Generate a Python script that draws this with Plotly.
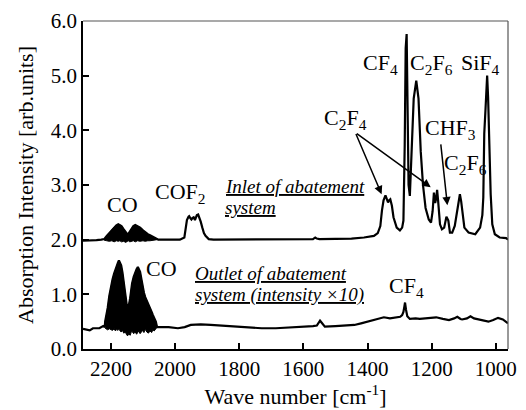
import plotly.graph_objects as go

# ---------------- data ----------------
# Inlet spectrum, main line outside the CO band
inlet_x_a = [2287, 2266, 2245, 2230, 2222]
inlet_y_a = [1.98, 1.98, 1.99, 2.00, 2.00]
# CO band (inlet) envelope
inlet_co_x = [2221, 2213, 2205, 2197, 2190, 2183, 2177, 2172, 2167, 2160, 2154, 2150, 2146, 2141, 2136, 2130, 2124, 2117, 2109, 2100, 2093, 2085, 2078, 2070, 2063, 2056, 2052]
inlet_co_hi = [2.01, 2.07, 2.12, 2.18, 2.23, 2.26, 2.28, 2.27, 2.25, 2.19, 2.13, 2.11, 2.10, 2.15, 2.21, 2.25, 2.27, 2.25, 2.22, 2.17, 2.13, 2.10, 2.08, 2.06, 2.04, 2.02, 2.00]
inlet_co_lo = [1.99, 1.98, 1.97, 1.98, 1.96, 1.98, 1.97, 1.98, 1.96, 1.97, 1.95, 1.97, 1.98, 1.96, 1.97, 1.98, 1.96, 1.98, 1.97, 1.98, 1.97, 1.98, 1.98, 1.99, 1.99, 2.00, 2.00]
inlet_x_b = [2045, 2020, 2000, 1985, 1971, 1966, 1963, 1958, 1956, 1952, 1949, 1945, 1942, 1938, 1935, 1932, 1928, 1925, 1920, 1915, 1910, 1905, 1900, 1895, 1880, 1849, 1800, 1750, 1700, 1650, 1600, 1570, 1563, 1558, 1550, 1500, 1450, 1411, 1395, 1380, 1368, 1360, 1355, 1350, 1344, 1340, 1336, 1333, 1329, 1324, 1319, 1309, 1299, 1292, 1288, 1284, 1281, 1278, 1275, 1272, 1268, 1263, 1256, 1248, 1241, 1234, 1227, 1219, 1209, 1202, 1197, 1193, 1189, 1186, 1183, 1180, 1178, 1174, 1168, 1161, 1154, 1148, 1143, 1136, 1128, 1120, 1116, 1112, 1108, 1104, 1098, 1085, 1064, 1049, 1042, 1039, 1036, 1032, 1029, 1027, 1024, 1022, 1019, 1016, 1011, 1003, 988, 975, 968, 962]
inlet_y_b = [2.00, 2.00, 2.00, 2.00, 2.04, 2.28, 2.36, 2.42, 2.43, 2.39, 2.37, 2.40, 2.41, 2.36, 2.40, 2.45, 2.46, 2.42, 2.33, 2.22, 2.12, 2.07, 2.03, 2.01, 2.00, 2.00, 2.00, 2.00, 2.00, 2.00, 2.01, 2.01, 2.04, 2.02, 2.01, 2.01, 2.02, 2.04, 2.05, 2.07, 2.12, 2.25, 2.53, 2.72, 2.81, 2.73, 2.68, 2.72, 2.74, 2.62, 2.41, 2.22, 2.17, 2.22, 2.35, 3.73, 5.50, 5.76, 4.34, 3.00, 2.80, 3.43, 4.58, 4.91, 4.58, 3.61, 3.00, 2.58, 2.37, 2.31, 2.52, 2.86, 2.67, 2.75, 2.91, 2.72, 2.58, 2.28, 2.19, 2.22, 2.42, 2.35, 2.13, 2.13, 2.25, 2.53, 2.70, 2.83, 2.70, 2.53, 2.22, 2.13, 2.10, 2.22, 2.45, 2.77, 3.94, 4.40, 4.70, 5.00, 4.60, 4.04, 3.40, 2.83, 2.28, 2.10, 2.04, 2.04, 2.03, 2.00]

# Outlet spectrum (intensity x10)
outlet_x_a = [2287, 2277, 2266, 2256, 2236, 2224, 2219]
outlet_y_a = [0.37, 0.35, 0.34, 0.38, 0.38, 0.42, 0.40]
outlet_co_x = [2218, 2214, 2210, 2205, 2200, 2195, 2190, 2186, 2182, 2178, 2175, 2171, 2168, 2164, 2160, 2155, 2151, 2148, 2144, 2140, 2137, 2134, 2129, 2124, 2120, 2116, 2113, 2109, 2105, 2101, 2097, 2093, 2088, 2083, 2078, 2073, 2069, 2065, 2060, 2056]
outlet_co_hi = [0.50, 0.62, 0.75, 0.97, 1.14, 1.27, 1.38, 1.46, 1.53, 1.58, 1.62, 1.57, 1.53, 1.40, 1.20, 0.98, 0.82, 0.79, 0.80, 0.93, 1.08, 1.20, 1.32, 1.41, 1.46, 1.50, 1.47, 1.41, 1.28, 1.14, 1.03, 0.95, 0.89, 0.83, 0.76, 0.68, 0.62, 0.56, 0.50, 0.40]
outlet_co_lo = [0.38, 0.36, 0.35, 0.37, 0.35, 0.34, 0.37, 0.33, 0.36, 0.34, 0.36, 0.33, 0.31, 0.34, 0.29, 0.31, 0.26, 0.24, 0.28, 0.25, 0.30, 0.32, 0.28, 0.31, 0.27, 0.29, 0.33, 0.28, 0.31, 0.34, 0.30, 0.36, 0.31, 0.29, 0.33, 0.30, 0.35, 0.33, 0.37, 0.40]
outlet_x_b = [2050, 2040, 2020, 1991, 1970, 1951, 1920, 1889, 1860, 1828, 1800, 1767, 1730, 1686, 1650, 1604, 1570, 1558, 1551, 1548, 1544, 1538, 1533, 1500, 1470, 1441, 1420, 1400, 1380, 1365, 1349, 1330, 1310, 1298, 1292, 1288, 1285, 1283, 1280, 1276, 1268, 1250, 1237, 1215, 1186, 1165, 1146, 1130, 1120, 1110, 1105, 1090, 1079, 1068, 1054, 1040, 1023, 1008, 993, 978, 962]
outlet_y_b = [0.40, 0.41, 0.40, 0.38, 0.40, 0.44, 0.45, 0.44, 0.43, 0.42, 0.41, 0.39, 0.38, 0.38, 0.39, 0.41, 0.42, 0.43, 0.48, 0.52, 0.49, 0.45, 0.41, 0.42, 0.43, 0.44, 0.47, 0.50, 0.53, 0.56, 0.58, 0.56, 0.58, 0.59, 0.62, 0.68, 0.78, 0.85, 0.72, 0.60, 0.55, 0.56, 0.55, 0.56, 0.58, 0.55, 0.53, 0.56, 0.59, 0.55, 0.54, 0.56, 0.60, 0.56, 0.54, 0.52, 0.50, 0.53, 0.57, 0.54, 0.47]

x_tick_vals = [2200, 2000, 1800, 1600, 1400, 1200, 1000]
y_tick_vals = [0, 1, 2, 3, 4, 5, 6]

FONT = "Liberation Serif"
BLACK = "#000000"

fig = go.Figure()


def add_spectrum(xa, ya, cx, chi, clo, xb, yb):
    # filled CO rotational band
    fig.add_trace(go.Scatter(
        x=cx + cx[::-1], y=chi + clo[::-1], fill="toself", fillcolor=BLACK,
        mode="lines", line=dict(color=BLACK, width=1), hoverinfo="skip", showlegend=False))
    # continuous spectrum line
    fig.add_trace(go.Scatter(
        x=xa + cx + xb, y=ya + chi + yb, mode="lines",
        line=dict(color=BLACK, width=2.2), showlegend=False))


add_spectrum(inlet_x_a, inlet_y_a, inlet_co_x, inlet_co_hi, inlet_co_lo, inlet_x_b, inlet_y_b)
add_spectrum(outlet_x_a, outlet_y_a, outlet_co_x, outlet_co_hi, outlet_co_lo, outlet_x_b, outlet_y_b)

LBL = 22
ITAL = 19
ann = []


def label(text, x, y, size=LBL, xanchor="center"):
    ann.append(dict(x=x, y=y, xref="x", yref="y", text=text, showarrow=False,
                    xanchor=xanchor, yanchor="middle",
                    font=dict(family=FONT, size=size, color=BLACK)))


def arrow(x0, y0, x1, y1):
    ann.append(dict(x=x1, y=y1, ax=x0, ay=y0, xref="x", yref="y", axref="x", ayref="y",
                    text="", showarrow=True, arrowhead=2, arrowsize=1.1, arrowwidth=1.5,
                    arrowcolor=BLACK, standoff=0, startstandoff=0))


label("CO", 2165, 2.65)
label("COF<sub>2</sub>", 1984, 2.86)
label("CF<sub>4</sub>", 1360, 5.21)
label("C<sub>2</sub>F<sub>6</sub>", 1200, 5.21)
label("SiF<sub>4</sub>", 1047, 5.21)
label("C<sub>2</sub>F<sub>4</sub>", 1469, 4.21)
label("CHF<sub>3</sub>", 1142, 4.03)
label("C<sub>2</sub>F<sub>6</sub>", 1096, 3.38)
label("CO", 2043, 1.47)
label("CF<sub>4</sub>", 1277, 1.13)
label("<i><u>Inlet of abatement</u></i>", 1851, 2.98, size=ITAL, xanchor="left")
label("<i><u>system</u></i>", 1851, 2.58, size=ITAL, xanchor="left")
label("<i><u>Outlet of abatement</u></i>", 1945, 1.38, size=ITAL, xanchor="left")
label("<i><u>system (intensity ×10)</u></i>", 1945, 0.99, size=ITAL, xanchor="left")
arrow(1438, 3.96, 1356, 2.83)
arrow(1438, 3.96, 1203, 2.96)
arrow(1172, 3.77, 1151, 2.63)

fig.update_layout(
    width=526, height=410,
    margin=dict(l=83, r=9, t=18, b=61),
    paper_bgcolor="white", plot_bgcolor="white",
    font=dict(family=FONT, size=21, color=BLACK),
    annotations=ann,
    shapes=[
        dict(type="line", xref="paper", yref="paper", x0=0, x1=1, y0=1, y1=1,
             line=dict(color="#555555", width=1.2)),
        dict(type="line", xref="paper", yref="paper", x0=1, x1=1, y0=0, y1=1,
             line=dict(color="#555555", width=1.2)),
    ],
    xaxis=dict(
        range=[2287, 962], tickmode="array", tickvals=x_tick_vals,
        ticks="inside", ticklen=6, tickwidth=1.5, tickcolor=BLACK,
        showline=True, linecolor=BLACK, linewidth=1.5, mirror=False,
        showgrid=False, zeroline=False,
        tickfont=dict(family=FONT, size=21, color=BLACK),
        title=dict(text="Wave number [cm<sup>-1</sup>]", standoff=2,
                   font=dict(family=FONT, size=22, color=BLACK)),
    ),
    yaxis=dict(
        range=[0, 6], tickmode="array", tickvals=y_tick_vals, tickformat=".1f",
        ticks="inside", ticklen=6, tickwidth=1.5, tickcolor=BLACK,
        showline=True, linecolor=BLACK, linewidth=1.5, mirror=False,
        showgrid=False, zeroline=False,
        tickfont=dict(family=FONT, size=21, color=BLACK),
        title=dict(text="Absorption Intensity [arb.units]", standoff=11,
                   font=dict(family=FONT, size=22, color=BLACK)),
    ),
)

fig.write_html("out.html")
